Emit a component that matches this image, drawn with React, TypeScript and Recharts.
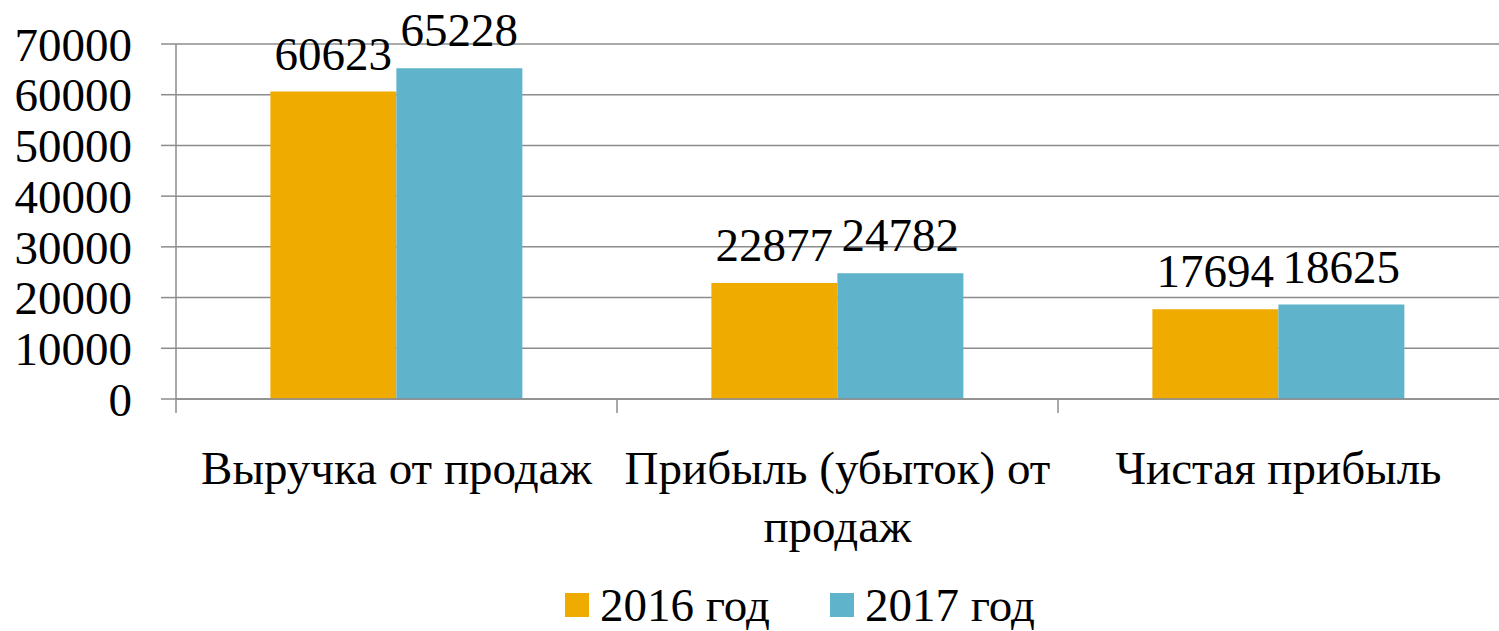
import React from "react";
import { BarChart, Bar, XAxis, YAxis, CartesianGrid, Legend, LabelList } from "recharts";

// "\n" marks where the axis label wraps in the original
const categories = ["Выручка от продаж", "Прибыль (убыток) от\nпродаж", "Чистая прибыль"];
const seriesNames = ["2016 год", "2017 год"];
const values2016 = [60623, 22877, 17694];
const values2017 = [65228, 24782, 18625];
const yTicks = [0, 10000, 20000, 30000, 40000, 50000, 60000, 70000];

const data = categories.map((name, i) => ({
  name,
  y2016: values2016[i],
  y2017: values2017[i],
}));

const FONT = "Liberation Serif";
const GRID = "#8c8c8c";
const ORANGE = "#efab00";
const BLUE = "#5fb3cb";

const W = 1499;
const H = 631;
const LEFT = 176;
const BAND = (W - LEFT) / categories.length;

const CategoryTick = (props: any) => {
  const { x, y, payload } = props;
  const bx = x - BAND / 2;
  const lines = String(payload.value).split("\n");
  return (
    <g>
      <line x1={bx} x2={bx} y1={y} y2={y + 14} stroke={GRID} strokeWidth={1.5} />
      <text x={x} y={y + 85} textAnchor="middle" fill="#000" fontFamily={FONT} fontSize={47}>
        {lines.map((l, i) => (
          <tspan key={i} x={x} dy={i === 0 ? 0 : 58}>
            {l}
          </tspan>
        ))}
      </text>
    </g>
  );
};

const LegendBox = () => {
  const colors = [ORANGE, BLUE];
  return (
    <div
      style={{
        display: "flex",
        alignItems: "center",
        height: 52,
        paddingLeft: 565,
        fontFamily: FONT,
        fontSize: 47,
        color: "#000",
      }}
    >
      {seriesNames.map((n, i) => (
        <div key={n} style={{ display: "flex", alignItems: "center", marginRight: 60 }}>
          <span style={{ width: 24, height: 24, background: colors[i], marginRight: 11, display: "inline-block" }} />
          <span style={{ lineHeight: "52px" }}>{n}</span>
        </div>
      ))}
    </div>
  );
};

export default function App() {
  return (
    <div style={{ position: "absolute", left: 0, top: 0, width: W, height: H, background: "#fff", fontFamily: FONT }}>
      <BarChart
        width={W}
        height={H}
        data={data}
        margin={{ top: 44, right: 0, left: 0, bottom: 0 }}
        barCategoryGap="21.4%"
        barGap={0}
      >
        <CartesianGrid vertical={false} stroke={GRID} strokeWidth={1.5} />
        <XAxis
          dataKey="name"
          height={180}
          interval={0}
          tickLine={false}
          tickSize={0}
          tickMargin={0}
          axisLine={{ stroke: GRID, strokeWidth: 1.5 }}
          tick={<CategoryTick />}
        />
        <YAxis
          width={LEFT}
          domain={[0, 70000]}
          ticks={yTicks}
          interval={0}
          tickSize={15}
          tickMargin={29}
          axisLine={{ stroke: GRID, strokeWidth: 1.5 }}
          tickLine={{ stroke: GRID, strokeWidth: 1.5 }}
          tick={{ fill: "#000", fontFamily: FONT, fontSize: 47 }}
        />
        <Legend verticalAlign="bottom" height={52} content={<LegendBox />} />
        <Bar dataKey="y2016" name={seriesNames[0]} fill={ORANGE} isAnimationActive={false}>
          <LabelList dataKey="y2016" position="top" offset={22} fill="#000" fontFamily={FONT} fontSize={47} />
        </Bar>
        <Bar dataKey="y2017" name={seriesNames[1]} fill={BLUE} isAnimationActive={false}>
          <LabelList dataKey="y2017" position="top" offset={22} fill="#000" fontFamily={FONT} fontSize={47} />
        </Bar>
      </BarChart>
    </div>
  );
}
